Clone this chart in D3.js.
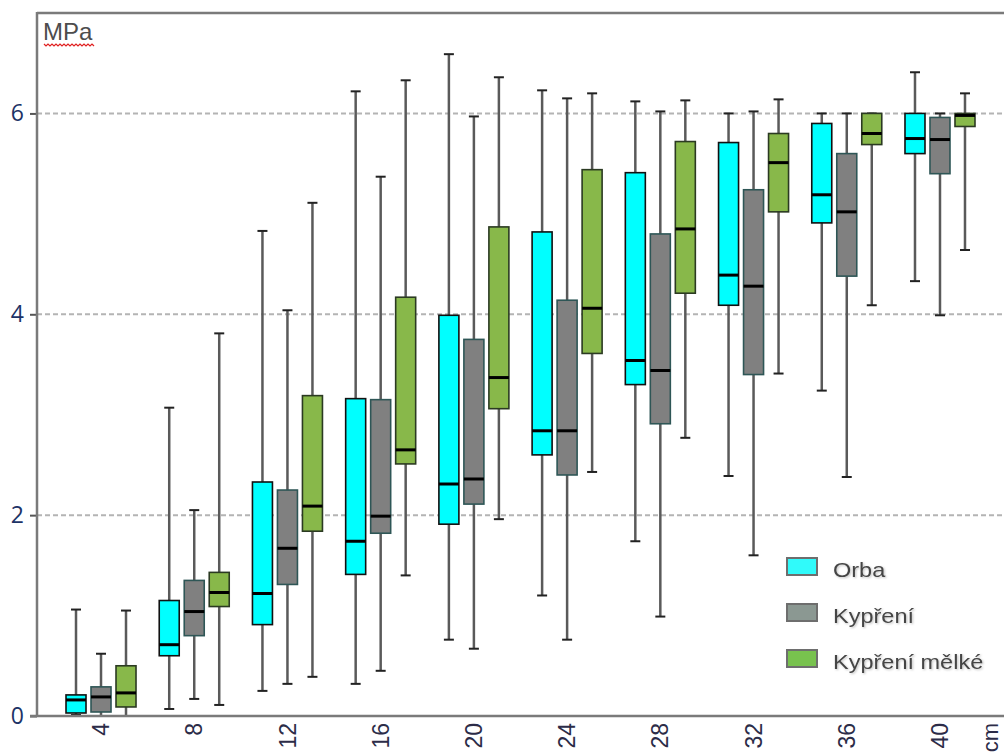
<!DOCTYPE html>
<html>
<head>
<meta charset="utf-8">
<script src="https://cdn.jsdelivr.net/npm/d3@7/dist/d3.min.js"></script>
<style>
  html, body { margin: 0; padding: 0; background: #fff; }
  svg { display: block; }
</style>
</head>
<body>
<svg id="chart" width="1004" height="756"></svg>
<script>
// Penetration resistance by depth, three tillage treatments
const depths = [4, 8, 12, 16, 20, 24, 28, 32, 36, 40];
const seriesNames = ["Orba", "Kypření", "Kypření mělké"];
const yTicks = [0, 2, 4, 6];

// each entry: [whisker low, Q1, median, Q3, whisker high] in MPa
const orba = [
  [0.01, 0.03, 0.16, 0.21, 1.06],
  [0.07, 0.60, 0.71, 1.15, 3.07],
  [0.25, 0.91, 1.22, 2.33, 4.83],
  [0.32, 1.41, 1.74, 3.16, 6.22],
  [0.76, 1.91, 2.31, 3.99, 6.59],
  [1.20, 2.60, 2.84, 4.82, 6.23],
  [1.74, 3.30, 3.54, 5.41, 6.12],
  [2.39, 4.09, 4.39, 5.71, 6.00],
  [3.24, 4.91, 5.19, 5.90, 6.00],
  [4.33, 5.60, 5.75, 6.00, 6.41]
];
const kypreni = [
  [0.00, 0.04, 0.19, 0.29, 0.62],
  [0.17, 0.80, 1.04, 1.35, 2.05],
  [0.32, 1.31, 1.67, 2.25, 4.04],
  [0.45, 1.82, 1.99, 3.15, 5.37],
  [0.67, 2.11, 2.36, 3.75, 5.97],
  [0.76, 2.40, 2.84, 4.14, 6.15],
  [0.99, 2.91, 3.44, 4.80, 6.02],
  [1.60, 3.40, 4.28, 5.24, 6.02],
  [2.38, 4.38, 5.02, 5.60, 6.00],
  [3.99, 5.40, 5.74, 5.96, 6.00]
];
const kypreniMelke = [
  [0.00, 0.09, 0.23, 0.50, 1.05],
  [0.11, 1.09, 1.23, 1.43, 3.81],
  [0.39, 1.84, 2.09, 3.19, 5.11],
  [1.40, 2.51, 2.65, 4.17, 6.33],
  [1.96, 3.06, 3.37, 4.87, 6.36],
  [2.43, 3.61, 4.06, 5.44, 6.20],
  [2.77, 4.21, 4.85, 5.72, 6.13],
  [3.41, 5.02, 5.51, 5.80, 6.14],
  [4.09, 5.69, 5.80, 6.00, 6.00],
  [4.64, 5.87, 5.98, 6.00, 6.20]
];

const seriesData = [orba, kypreni, kypreniMelke];
const boxFill = ["#00ffff", "#808080", "#88b84a"];
const boxStroke = ["#111111", "#2e5656", "#2b3a22"];
const swatchFill = ["#30fafa", "#8b9892", "#78c24e"];

const svg = d3.select("#chart");

const plot = { left: 37, right: 1004, top: 13, bottom: 716 };

const x = d3.scaleBand()
  .domain(depths)
  .range([54.4, 986.6])
  .padding(0);

const xSeries = d3.scalePoint()
  .domain(seriesNames)
  .range([-25, 25]);

const y = d3.scaleLinear()
  .domain([0, 7])
  .range([plot.bottom, plot.top]);

const boxW = 20;
const capW = 10;

const defs = svg.append("defs");
const shadow = defs.append("filter").attr("id", "soft")
  .attr("x", "-10%").attr("y", "-20%").attr("width", "130%").attr("height", "160%");
shadow.append("feDropShadow")
  .attr("dx", 1).attr("dy", 1).attr("stdDeviation", 1)
  .attr("flood-color", "#000").attr("flood-opacity", 0.25);

// dashed horizontal grid
svg.append("g")
  .selectAll("line")
  .data(yTicks.filter(d => d > 0))
  .join("line")
  .attr("x1", plot.left)
  .attr("x2", plot.right)
  .attr("y1", d => y(d))
  .attr("y2", d => y(d))
  .attr("stroke", "#b4b4b4")
  .attr("stroke-width", 2)
  .attr("stroke-dasharray", "5,3");

// y axis with ticks
const yAxis = d3.axisLeft(y)
  .tickValues(yTicks)
  .tickSize(7)
  .tickPadding(6)
  .tickFormat(d3.format("d"));

const gy = svg.append("g")
  .attr("transform", `translate(${plot.left},0)`)
  .call(yAxis);
gy.select(".domain").remove();
gy.selectAll(".tick line").attr("stroke", "#555").attr("stroke-width", 2);
gy.selectAll(".tick text")
  .attr("font-family", "'Open Sans', 'Noto Sans', sans-serif")
  .attr("font-size", 23)
  .attr("fill", "#1d3366");

// frame lines: left, top
svg.append("line")
  .attr("x1", plot.left).attr("x2", plot.left)
  .attr("y1", plot.top - 1).attr("y2", plot.bottom)
  .attr("stroke", "#7a7a7a").attr("stroke-width", 2.5);
svg.append("line")
  .attr("x1", plot.left).attr("x2", plot.right)
  .attr("y1", plot.top).attr("y2", plot.top)
  .attr("stroke", "#7a7a7a").attr("stroke-width", 2.5);

// boxes
const groups = svg.append("g")
  .selectAll("g.depth")
  .data(depths.map((d, i) => ({ depth: d, i })))
  .join("g")
  .attr("class", "depth")
  .attr("transform", d => `translate(${x(d.depth) + x.bandwidth() / 2},0)`);

groups.each(function (g) {
  const grp = d3.select(this);
  seriesNames.forEach((name, s) => {
    const [lo, q1, med, q3, hi] = seriesData[s][g.i];
    const cx = xSeries(name);
    const b = grp.append("g");
    // whisker stem
    b.append("line")
      .attr("x1", cx).attr("x2", cx)
      .attr("y1", y(lo)).attr("y2", y(hi))
      .attr("stroke", "#5a5a5a").attr("stroke-width", 2.5);
    // whisker caps
    [lo, hi].forEach(v => {
      b.append("line")
        .attr("x1", cx - capW / 2).attr("x2", cx + capW / 2)
        .attr("y1", y(v)).attr("y2", y(v))
        .attr("stroke", "#222").attr("stroke-width", 2);
    });
    // interquartile box
    b.append("rect")
      .attr("x", cx - boxW / 2)
      .attr("y", y(q3))
      .attr("width", boxW)
      .attr("height", Math.max(0.5, y(q1) - y(q3)))
      .attr("fill", boxFill[s])
      .attr("stroke", boxStroke[s])
      .attr("stroke-width", 1.6);
    // median
    b.append("line")
      .attr("x1", cx - boxW / 2).attr("x2", cx + boxW / 2)
      .attr("y1", y(med)).attr("y2", y(med))
      .attr("stroke", "#000").attr("stroke-width", 3);
  });
});

// bottom axis line drawn over the lowest caps
svg.append("line")
  .attr("x1", plot.left - 7).attr("x2", plot.right)
  .attr("y1", plot.bottom).attr("y2", plot.bottom)
  .attr("stroke", "#7a7a7a").attr("stroke-width", 2.5);

// x labels, rotated
const xLabelFont = "'Liberation Sans', Arial, sans-serif";
svg.append("g")
  .selectAll("text")
  .data(depths)
  .join("text")
  .attr("transform", d => `translate(${x(d) + x.bandwidth() / 2},723) rotate(-90)`)
  .attr("text-anchor", "end")
  .attr("dy", "0.35em")
  .attr("font-family", xLabelFont)
  .attr("font-size", 23)
  .attr("fill", "#2c2c48")
  .text(d => d);

svg.append("text")
  .attr("transform", "translate(991,723) rotate(-90)")
  .attr("text-anchor", "end")
  .attr("dy", "0.3em")
  .attr("font-family", xLabelFont)
  .attr("font-size", 22)
  .attr("fill", "#2c2c48")
  .text("cm");

// unit label
svg.append("text")
  .attr("x", 43)
  .attr("y", 40)
  .attr("font-family", xLabelFont)
  .attr("font-size", 24)
  .attr("fill", "#4d4d4d")
  .text("MPa");

// wavy spell-check underline beneath the unit
const wave = d3.range(44, 96, 2).map((px, k) => [px, 45 + (k % 2 === 0 ? -1 : 1)]);
svg.append("path")
  .attr("d", d3.line()(wave))
  .attr("fill", "none")
  .attr("stroke", "#e02020")
  .attr("stroke-width", 1.2);

// legend
const legend = svg.append("g").attr("transform", "translate(787,558)");
const rows = legend.selectAll("g")
  .data(seriesNames)
  .join("g")
  .attr("transform", (d, i) => `translate(0,${i * 46})`);
rows.append("rect")
  .attr("x", 0).attr("y", 0)
  .attr("width", 30).attr("height", 17)
  .attr("fill", (d, i) => swatchFill[i])
  .attr("stroke", "#6e6e6e")
  .attr("stroke-width", 2);
rows.append("text")
  .attr("x", 46)
  .attr("y", 19)
  .attr("font-family", xLabelFont)
  .attr("font-size", 21)
  .attr("fill", "#454545")
  .attr("filter", "url(#soft)")
  .attr("transform", "translate(46,0) scale(1.12,1) translate(-46,0)")
  .text(d => d);
</script>
</body>
</html>
